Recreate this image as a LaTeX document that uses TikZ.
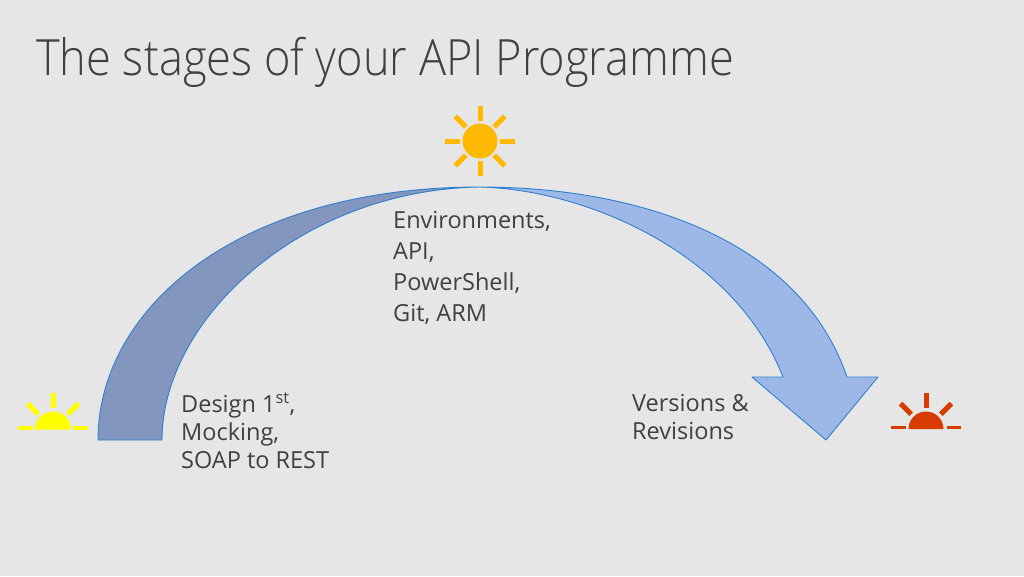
\documentclass[tikz,border=0pt]{standalone}
\usepackage{fontspec}
\setmainfont{Open Sans}
\newfontfamily\titlefont[FakeStretch=0.903]{Open Sans Light}
\definecolor{slidebg}{HTML}{E6E6E6}
\definecolor{inkgrey}{HTML}{404040}
\definecolor{arcedge}{HTML}{2F80D0}
\definecolor{riseblue}{HTML}{8296BE}
\definecolor{fallblue}{HTML}{9DB8E6}
\definecolor{sunnoon}{HTML}{FFB900}
\definecolor{sunrise}{HTML}{FFFF00}
\definecolor{sunset}{HTML}{D83B01}

\begin{document}
\begin{tikzpicture}[x=1pt,y=-1pt,every node/.style={inner sep=0,anchor=north west,align=left,text=inkgrey,font=\fontsize{23.5}{28}\selectfont},band/.style={draw=arcedge,line width=0.9pt,line join=round},ray/.style={line width=5pt}]
  \fill[slidebg] (0,0) rectangle (1024,576);
  \useasboundingbox (0,0) rectangle (1024,576);
  \node (title) at (36,37) {\titlefont\fontsize{50}{60}\selectfont The stages of your API Programme};
  % the two halves of the arc
  \path[band,fill=riseblue] (98,440) .. controls (98,310) and (235,187) .. (480,187) .. controls (300,190) and (162,320) .. (162,440) -- cycle;
  \path[band,fill=fallblue] (480,187) .. controls (640,187) and (800,240) .. (847,377) -- (878,377) -- (826,440) -- (752,377) -- (783,377) .. controls (735,255) and (590,190) .. (480,187) -- cycle;
  % suns
  \fill[sunnoon] (480,141) circle (17.5);
  \foreach \a in {0,45,...,315} \draw[ray,draw=sunnoon] (480,141) ++(\a:20) -- ++(\a:15);
  \fill[sunrise] (35,429.5) arc (180:360:18) -- cycle;
  \foreach \a in {45,90,135} \draw[ray,draw=sunrise] (53,429) ++(-\a:21) -- ++(-\a:15);
  \draw[ray,draw=sunrise,line width=4pt] (18,428) -- (33,428) (73,428) -- (88,428);
  \fill[sunset] (908.5,429) arc (180:360:17.5) -- cycle;
  \foreach \a in {45,90,135} \draw[ray,draw=sunset] (926,429) ++(-\a:21) -- ++(-\a:15);
  \draw[ray,draw=sunset,line width=3pt] (891,427.5) -- (906,427.5) (947,427.5) -- (961,427.5);
  % labels
  \node[font=\fontsize{23.5}{31}\selectfont] (envs) at (393,211) {Environments,\\API,\\PowerShell,\\Git, ARM};
  \node (design) at (181,392) {Design 1\textsuperscript{st},\\Mocking,\\SOAP to REST};
  \node (versions) at (632,394) {Versions \&\\Revisions};
\end{tikzpicture}
\end{document}
